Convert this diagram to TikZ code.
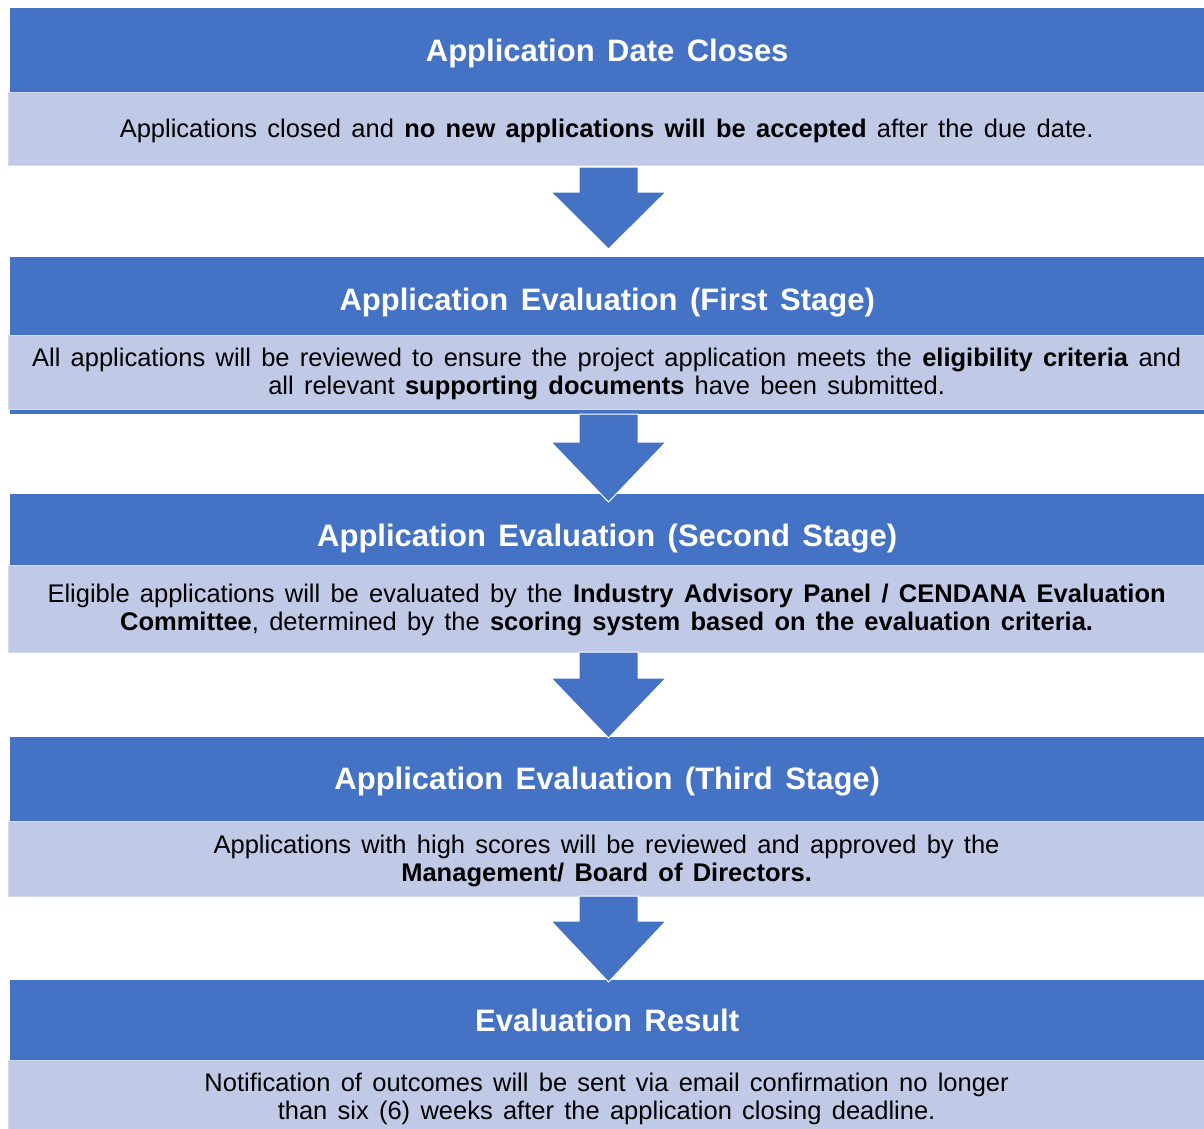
\documentclass[tikz,border=0pt]{standalone}
\usepackage{fontspec}
\setmainfont{Liberation Sans}[WordSpace=1.45]
\definecolor{hdrblue}{HTML}{4472C4}
\definecolor{bodyblue}{HTML}{C0C9E6}
\definecolor{bodyedge}{HTML}{D3DAEE}
\begin{document}
\begin{tikzpicture}[x=1pt,y=1pt,
  hdr/.style={fill=hdrblue, draw=none, inner sep=0pt, minimum width=1194pt, anchor=north west},
  bdy/.style={fill=bodyblue, draw=bodyedge, line width=1.2pt, inner sep=0pt, minimum width=1196pt, anchor=north west},
  hdrtext/.style={inner sep=0pt, text=white, font=\fontsize{31}{34}\selectfont\bfseries},
  bdytext/.style={inner sep=0pt, text=black, align=center, font=\fontsize{25.5}{28}\selectfont},
  flowarrow/.style={fill=hdrblue, draw=white, line width=1pt, line join=miter}
]
\useasboundingbox (0,0) rectangle (1204,-1128);
% boxes
\node[hdr, minimum height=84pt] (h1) at (10,-8) {};
\node[bdy, minimum height=73pt] (b1) at (8,-92) {};
\node[hdr, minimum height=78pt] (h2) at (10,-257) {};
\node[hdr, minimum height=5pt] (s2) at (10,-409) {};
\node[bdy, minimum height=74pt] (b2) at (8,-335) {};
\node[hdr, minimum height=71pt] (h3) at (10,-494) {};
\node[bdy, minimum height=87pt] (b3) at (8,-565) {};
\node[hdr, minimum height=84pt] (h4) at (10,-737) {};
\node[bdy, minimum height=75pt] (b4) at (8,-821) {};
\node[hdr, minimum height=80pt] (h5) at (10,-980) {};
\node[bdy, minimum height=70pt] (b5) at (8,-1060) {};

% texts
\node[hdrtext] (t1) at ([yshift=-3pt]h1.center) {Application Date Closes};
\node[bdytext] (d1) at ([yshift=-2pt]b1.center) {Applications closed and \textbf{no new applications will be accepted} after the due date.};
\node[hdrtext] (t2) at ([yshift=-6pt]h2.center) {Application Evaluation (First Stage)};
\node[bdytext] (d2) at ([yshift=-1pt]b2.center) {All applications will be reviewed to ensure the project application meets the \textbf{eligibility criteria} and\\all relevant \textbf{supporting documents} have been submitted.};
\node[hdrtext] (t3) at ([yshift=-9pt]h3.center) {Application Evaluation (Second Stage)};
\node[bdytext] (d3) at ([yshift=-1pt]b3.center) {Eligible applications will be evaluated by the \textbf{Industry Advisory Panel / CENDANA Evaluation}\\\textbf{Committee}, determined by the \textbf{scoring system based on the evaluation criteria.}};
\node[hdrtext] (t4) at ([yshift=-2pt]h4.center) {Application Evaluation (Third Stage)};
\node[bdytext] (d4) at ([yshift=-2pt]b4.center) {Applications with high scores will be reviewed and approved by the\\\textbf{Management/ Board of Directors.}};
\node[hdrtext] (t5) at (h5.center) {Evaluation Result};
\node[bdytext] (d5) at ([yshift=-3pt]b5.center) {Notification of outcomes will be sent via email confirmation no longer\\than six (6) weeks after the application closing deadline.};

% block arrows
\foreach \a/\top/\neck/\tip in {1/167/192/249, 2/414/442/502, 3/652/678/738, 4/896/921/982}{
  \coordinate (ar\a) at (608.5,-\top);
  \draw[flowarrow] (579,-\top) -- (638,-\top) -- (638,-\neck) -- (666,-\neck) -- (608.5,-\tip)
    -- (551,-\neck) -- (579,-\neck) -- cycle;
}
\end{tikzpicture}
\end{document}
